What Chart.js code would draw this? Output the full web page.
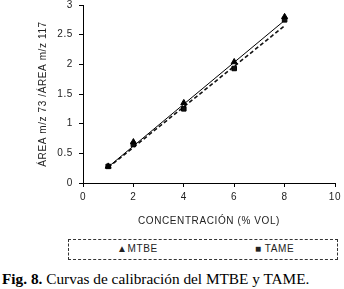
<!DOCTYPE html>
<html>
<head>
<meta charset="utf-8">
<script src="https://cdn.jsdelivr.net/npm/chart.js@4"></script>
<style>
  body { margin: 0; background: #fff; }
  #wrap { position: relative; width: 344px; height: 289px; overflow: hidden; }
  #chart { position: absolute; left: 0; top: 0; }
  #legend {
    position: absolute; left: 68px; top: 239px; width: 268px; height: 19px;
    border: 1px dashed #333; font: 10px "Liberation Sans", Arial, sans-serif;
    letter-spacing: 0.6px; color: #222;
  }
  #legend span { position: absolute; top: 3px; }
  #caption {
    position: absolute; left: 2px; top: 270px; white-space: nowrap; line-height: 17px;
    font: 15.3px "Liberation Serif", "Times New Roman", serif; color: #000;
  }
</style>
</head>
<body>
<div id="wrap">
  <canvas id="chart" width="344" height="230"></canvas>
  <div id="legend"></div>
  <div id="caption"><b>Fig. 8.</b> Curvas de calibración del MTBE y TAME.</div>
</div>
<script>
//Concentration values (% vol)
const concentrations = [1, 2, 4, 6, 8];
//Area ratios
const mtbeValues = [0.28, 0.69, 1.35, 2.04, 2.80];
const tameValues = [0.28, 0.65, 1.25, 1.93, 2.75];
//Trend line ends (x = 1 and x = 8)
const trendX = [1, 8];
const mtbeTrend = [0.27, 2.74];
const tameTrend = [0.26, 2.65];
//Axis ticks
const xTicks = [0, 2, 4, 6, 8, 10];
const yTicks = [0, 0.5, 1, 1.5, 2, 2.5, 3];

const toPoints = (xs, ys) => xs.map((x, i) => ({ x: x, y: ys[i] }));

const font = { family: "'Liberation Sans', Arial, sans-serif", size: 10 };

//letter spacing is reset whenever the canvas is resized, so set it on each pass
const spacing = {
  id: "spacing",
  beforeLayout(chart) { chart.ctx.letterSpacing = "0.6px"; },
  beforeDraw(chart) { chart.ctx.letterSpacing = "0.6px"; },
};

const chart = new Chart(document.getElementById("chart"), {
  type: "scatter",
  data: {
    datasets: [
      {
        label: "MTBE",
        data: toPoints(concentrations, mtbeValues),
        pointStyle: "triangle",
        pointRadius: 3.5,
        backgroundColor: "#000",
        borderColor: "#000",
        borderWidth: 1,
      },
      {
        label: "TAME",
        data: toPoints(concentrations, tameValues),
        pointStyle: "rect",
        pointRadius: 3.2,
        backgroundColor: "#111",
        borderColor: "#000",
        borderWidth: 1,
      },
      {
        label: "MTBE trend",
        data: toPoints(trendX, mtbeTrend),
        showLine: true,
        pointRadius: 0,
        borderColor: "#000",
        borderWidth: 1,
      },
      {
        label: "TAME trend",
        data: toPoints(trendX, tameTrend),
        showLine: true,
        pointRadius: 0,
        borderColor: "#111",
        borderWidth: 1.6,
        borderDash: [4, 2.5],
      },
    ],
  },
  options: {
    responsive: false,
    animation: false,
    layout: { padding: { left: 37, top: 3, right: 9, bottom: 0 } },
    plugins: { legend: { display: false }, tooltip: { enabled: false } },
    scales: {
      x: {
        type: "linear",
        min: 0,
        max: 10,
        afterBuildTicks: (scale) => { scale.ticks = xTicks.map((v) => ({ value: v })); },
        ticks: { font: font, color: "#222", padding: 4, callback: (v) => String(v) },
        grid: { drawOnChartArea: false, drawTicks: true, tickLength: 4, color: "#000" },
        border: { color: "#000", width: 1 },
        title: {
          display: true,
          text: "CONCENTRACIÓN (% VOL)",
          font: font,
          color: "#222",
          padding: { top: 0, bottom: 3 },
        },
        afterFit: (scale) => {
          scale.height = 47;
          scale.paddingLeft = 0;
          scale.paddingRight = 0;
        },
      },
      y: {
        min: 0,
        max: 3,
        afterBuildTicks: (scale) => { scale.ticks = yTicks.map((v) => ({ value: v })); },
        ticks: { font: font, color: "#222", padding: 6, callback: (v) => String(v) },
        grid: { drawOnChartArea: false, drawTicks: true, tickLength: 4, color: "#000" },
        border: { color: "#000", width: 1 },
        title: {
          display: true,
          text: "ÁREA m/z 73 /ÁREA m/z 117",
          font: font,
          color: "#222",
          padding: { top: 0, bottom: 0 },
        },
        afterFit: (scale) => {
          scale.width = 46;
          scale.paddingTop = 0;
          scale.paddingBottom = 0;
        },
      },
    },
  },
  plugins: [spacing],
});

//Legend entries from the chart's own labels
const legend = document.getElementById("legend");
const legendItems = [
  { sym: "▲", left: 48 },
  { sym: "■", left: 186 },
];
legendItems.forEach((item, i) => {
  const span = document.createElement("span");
  span.style.left = item.left + "px";
  span.textContent = item.sym + (i == 1 ? " " : "") + chart.data.datasets[i].label;
  legend.appendChild(span);
});
</script>
</body>
</html>
